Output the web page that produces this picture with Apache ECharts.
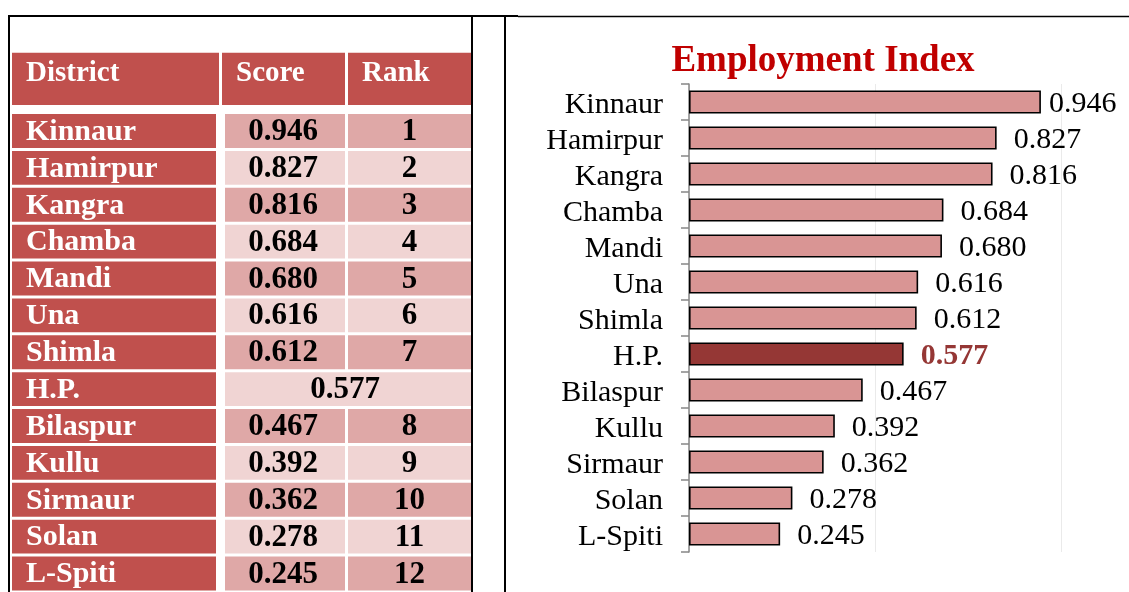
<!DOCTYPE html>
<html><head><meta charset="utf-8">
<script src="https://cdn.jsdelivr.net/npm/echarts@6/dist/echarts.min.js"></script>
<style>html,body{margin:0;padding:0;background:#fff}#c{width:1129px;height:592px}</style>
</head><body><div id="c"></div>
<script>
// ---- data ----
const districts = ['Kinnaur','Hamirpur','Kangra','Chamba','Mandi','Una','Shimla','H.P.','Bilaspur','Kullu','Sirmaur','Solan','L-Spiti'];
const scores = [0.946,0.827,0.816,0.684,0.680,0.616,0.612,0.577,0.467,0.392,0.362,0.278,0.245];
const ranks = ['1','2','3','4','5','6','7','','8','9','10','11','12'];
const headers = ['District','Score','Rank'];
const chartTitle = 'Employment Index';
const stateTotal = 'H.P.';

// ---- layout / style ----
const SERIF = '"Liberation Serif", "Times New Roman", serif';
const RED = '#C0504D', PINK_D = '#DFA8A7', PINK_L = '#F0D4D3';
const BAR = '#D99594', BAR_HI = '#953735';
const TABLE_W = 459;
const headCols = [[0,207],[210,333],[336,459]];
const bodyCols = [[0,204],[213,333],[336,459]];
const hi = districts.indexOf(stateTotal);
const maxScore = Math.max(...scores);

function renderHeader(params, api) {
  const i = api.value(2);
  const [x0, x1] = headCols[i];
  const a = api.coord([x0, 0]), b = api.coord([x1, 0]);
  const h = api.size([0, 1])[1];
  const top = a[1] - h / 2;
  return {type: 'group', children: [
    {type: 'rect', shape: {x: a[0], y: top, width: b[0] - a[0], height: h}, style: {fill: RED}},
    {type: 'text', x: a[0] + 14, y: top + 21, style: {text: headers[i], fill: '#fff', font: 'bold 29px ' + SERIF, align: 'left', verticalAlign: 'middle'}}
  ]};
}

function renderBody(params, api) {
  const i = api.value(2);
  const h = api.size([0, 1])[1];
  const ch = h - 3;
  const merged = ranks[i] === '';
  const fill = i % 2 === 0 ? PINK_D : PINK_L;
  const children = [];
  const c = (x) => api.coord([x, i]);
  let a = c(bodyCols[0][0]), b = c(bodyCols[0][1]);
  const top = a[1] - ch / 2;
  const ty = a[1] + 1;
  children.push({type: 'rect', shape: {x: a[0], y: top, width: b[0] - a[0], height: ch}, style: {fill: RED}});
  children.push({type: 'text', x: a[0] + 14, y: ty, style: {text: districts[i], fill: '#fff', font: 'bold 30px ' + SERIF, align: 'left', verticalAlign: 'middle'}});
  a = c(bodyCols[1][0]); b = c(merged ? bodyCols[2][1] : bodyCols[1][1]);
  children.push({type: 'rect', shape: {x: a[0], y: top, width: b[0] - a[0], height: ch}, style: {fill: fill}});
  children.push({type: 'text', x: (a[0] + b[0]) / 2 - (merged ? 3 : 2), y: ty, style: {text: scores[i].toFixed(3), fill: '#000', font: 'bold 31px ' + SERIF, align: 'center', verticalAlign: 'middle'}});
  if (!merged) {
    a = c(bodyCols[2][0]); b = c(bodyCols[2][1]);
    children.push({type: 'rect', shape: {x: a[0], y: top, width: b[0] - a[0], height: ch}, style: {fill: fill}});
    children.push({type: 'text', x: (a[0] + b[0]) / 2, y: ty, style: {text: ranks[i], fill: '#000', font: 'bold 31px ' + SERIF, align: 'center', verticalAlign: 'middle'}});
  }
  return {type: 'group', children};
}

const hiddenValueAxis = (gi) => ({type: 'value', gridIndex: gi, min: 0, max: TABLE_W, show: false});

const option = {
  animation: false,
  backgroundColor: '#fff',
  title: {
    text: chartTitle, left: 823, top: 43, textAlign: 'center', padding: 0,
    textStyle: {color: '#C00000', fontFamily: SERIF, fontWeight: 'bold', fontSize: 37}
  },
  grid: [
    {left: 689, top: 84, width: 372, height: 468},
    {left: 12, top: 52.7, width: TABLE_W, height: 52.3},
    {left: 12, top: 112.6, width: TABLE_W, height: 37.4 * districts.length}
  ],
  xAxis: [
    {type: 'value', gridIndex: 0, min: 0, max: 1, interval: 0.5,
     axisLine: {show: false}, axisTick: {show: false}, axisLabel: {show: false},
     splitLine: {show: true, lineStyle: {color: '#EAEAEA', width: 1}}},
    hiddenValueAxis(1),
    hiddenValueAxis(2)
  ],
  yAxis: [
    {type: 'category', gridIndex: 0, data: districts, inverse: true,
     axisLine: {show: true, lineStyle: {color: '#868686', width: 1.5}},
     axisTick: {show: true, length: 8, interval: 0, lineStyle: {color: '#868686', width: 1.5}},
     axisLabel: {interval: 0, margin: 26, color: '#000', fontFamily: SERIF, fontSize: 30,
                 formatter: v => '{a|' + v + '}',
                 rich: {a: {fontFamily: SERIF, fontSize: 30, color: '#000', padding: [6, 0, 0, 0]}}}},
    {type: 'category', gridIndex: 1, data: ['head'], show: false},
    {type: 'category', gridIndex: 2, data: districts, inverse: true, show: false}
  ],
  series: [
    {type: 'bar', xAxisIndex: 0, yAxisIndex: 0, barWidth: 23,
     itemStyle: {color: BAR, borderColor: '#000', borderWidth: 1.6},
     label: {show: true, position: 'right', distance: 17, color: '#000', fontFamily: SERIF, fontSize: 30,
             offset: [0, 2], formatter: p => p.value.toFixed(3)},
     data: scores.map((v, i) => {
       const d = {value: v};
       if (i === hi) { d.itemStyle = {color: BAR_HI}; d.label = {color: BAR_HI, fontWeight: 'bold'}; }
       else if (v === maxScore) { d.label = {distance: 8}; }
       return d;
     })},
    {type: 'custom', xAxisIndex: 1, yAxisIndex: 1, renderItem: renderHeader,
     data: headers.map((h, i) => [0, 0, i])},
    {type: 'custom', xAxisIndex: 2, yAxisIndex: 2, renderItem: renderBody,
     data: districts.map((d, i) => [0, i, i])}
  ],
  graphic: [
    {type: 'line', shape: {x1: 8, y1: 16, x2: 518, y2: 16}, style: {stroke: '#000', lineWidth: 2}},
    {type: 'line', shape: {x1: 518, y1: 16.5, x2: 1129, y2: 16.5}, style: {stroke: '#000', lineWidth: 1.5}},
    {type: 'line', shape: {x1: 9, y1: 15, x2: 9, y2: 592}, style: {stroke: '#000', lineWidth: 2}},
    {type: 'line', shape: {x1: 472, y1: 15, x2: 472, y2: 592}, style: {stroke: '#000', lineWidth: 2}},
    {type: 'line', shape: {x1: 505, y1: 15, x2: 505, y2: 592}, style: {stroke: '#000', lineWidth: 2}}
  ]
};
const chart = echarts.init(document.getElementById('c'), null, {renderer: 'canvas'});
chart.setOption(option);
</script></body></html>
